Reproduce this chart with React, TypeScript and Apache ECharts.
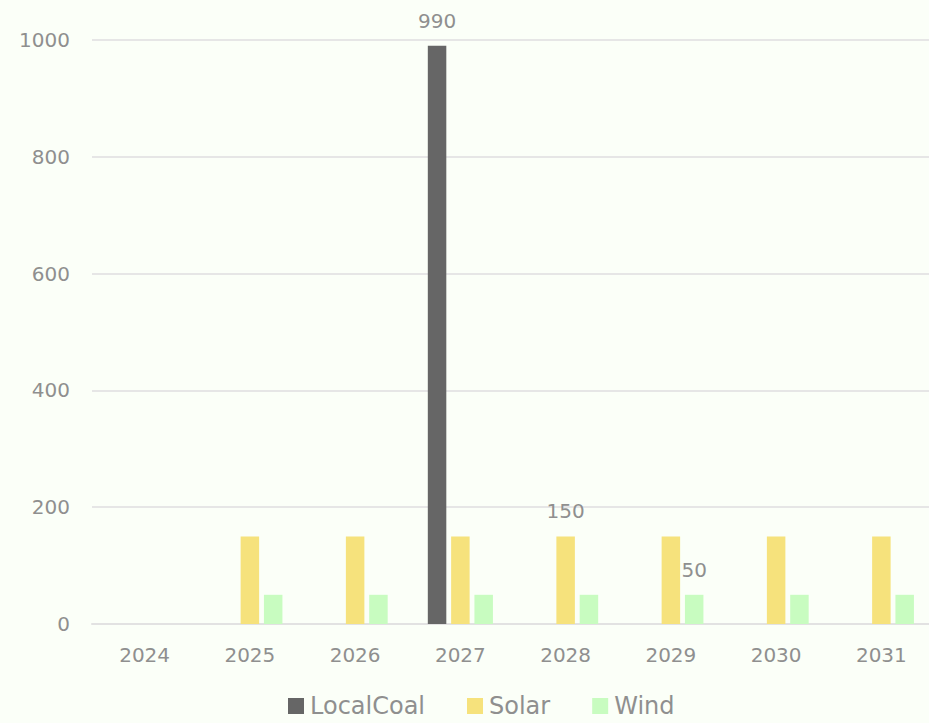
import React, { useEffect, useRef } from "react";
import * as echarts from "echarts";

const categories = ["2024", "2025", "2026", "2027", "2028", "2029", "2030", "2031"];
const localCoal = [0, 0, 0, 990, 0, 0, 0, 0];
const solar = [0, 150, 150, 150, 150, 150, 150, 150];
const wind = [0, 50, 50, 50, 50, 50, 50, 50];
const yTicks = { min: 0, max: 1000, interval: 200 };
// index of the point that carries a value label, per series
const localCoalLabelAt = 3;
const solarLabelAt = 4;
const windLabelAt = 5;

const FONT = "'DejaVu Sans', sans-serif";
const TEXT = "#8f8f8f";

function withLabel(values: number[], idx: number) {
  return values.map((v, i) =>
    i === idx
      ? {
          value: v,
          label: {
            show: true,
            position: "top",
            distance: 15,
            color: TEXT,
            fontSize: 20,
            fontFamily: FONT,
          },
        }
      : v
  );
}

export default function App() {
  const ref = useRef<HTMLDivElement>(null);
  useEffect(() => {
    document.body.style.margin = "0";
    document.body.style.overflow = "hidden";
    const chart = echarts.init(ref.current!, null, { renderer: "svg" });
    chart.setOption({
      animation: false,
      backgroundColor: "#fbfff8",
      textStyle: { fontFamily: FONT },
      grid: { left: 92, right: 0, top: 40, bottom: 99, containLabel: false },
      legend: {
        bottom: 4,
        left: 288,
        padding: 0,
        itemWidth: 16,
        itemHeight: 16,
        itemGap: 42,
        icon: "rect",
        textStyle: {
          color: TEXT,
          fontSize: 24,
          lineHeight: 26,
          fontFamily: FONT,
          padding: [0, 0, 0, 1],
        },
        data: ["LocalCoal", "Solar", "Wind"],
      },
      xAxis: {
        type: "category",
        data: categories,
        axisLine: { lineStyle: { color: "#e2e2e2", width: 2 } },
        axisTick: { show: false },
        axisLabel: { color: TEXT, fontSize: 20, fontFamily: FONT, margin: 21 },
      },
      yAxis: {
        type: "value",
        min: yTicks.min,
        max: yTicks.max,
        interval: yTicks.interval,
        axisLine: { show: false },
        axisTick: { show: false },
        splitLine: { lineStyle: { color: "#e6e6e6", width: 2 } },
        axisLabel: {
          color: TEXT,
          fontSize: 20,
          fontFamily: FONT,
          margin: 22,
          formatter: (v: number) => String(v),
        },
      },
      series: [
        {
          name: "LocalCoal",
          type: "bar",
          barWidth: 18.5,
          barGap: "26%",
          itemStyle: { color: "#666666" },
          data: withLabel(localCoal, localCoalLabelAt),
        },
        {
          name: "Solar",
          type: "bar",
          barWidth: 18.5,
          barGap: "26%",
          itemStyle: { color: "#f6e27c" },
          data: withLabel(solar, solarLabelAt),
        },
        {
          name: "Wind",
          type: "bar",
          barWidth: 18.5,
          barGap: "26%",
          itemStyle: { color: "#c8fcc0" },
          data: withLabel(wind, windLabelAt),
        },
      ],
    });
    return () => chart.dispose();
  }, []);
  return <div ref={ref} style={{ width: 934, height: 723 }} />;
}
